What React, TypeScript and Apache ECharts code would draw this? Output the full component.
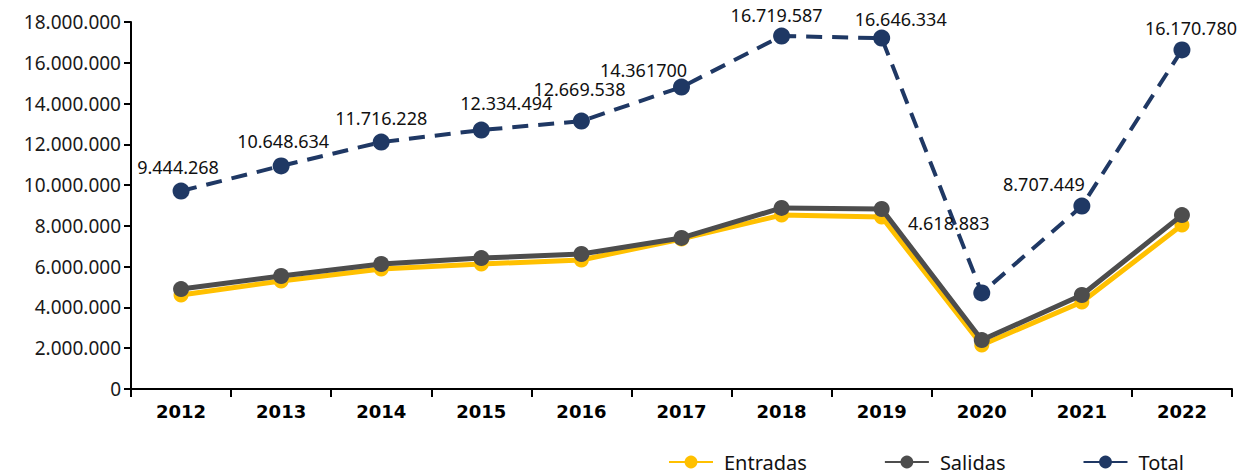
import React, { useEffect, useRef } from "react";
import * as echarts from "echarts";

const years = ["2012", "2013", "2014", "2015", "2016", "2017", "2018", "2019", "2020", "2021", "2022"];
const entradas = [4610000, 5300000, 5890000, 6130000, 6330000, 7360000, 8530000, 8440000, 2160000, 4270000, 8040000];
const salidas = [4900000, 5540000, 6130000, 6420000, 6620000, 7410000, 8880000, 8830000, 2400000, 4610000, 8530000];
const total = [9710000, 10940000, 12110000, 12700000, 13140000, 14810000, 17310000, 17210000, 4710000, 8970000, 16630000];
const totalLabels = ["9.444.268", "10.648.634", "11.716.228", "12.334.494", "12.669.538", "14.361700", "16.719.587", "16.646.334", "4.618.883", "8.707.449", "16.170.780"];
const yTicks = { min: 0, max: 18000000, interval: 2000000 };

// label offsets (style only)
const labelOffsets: [number, number][] = [
  [-3, -2], [2, -2], [0, -2], [25, -5], [-2, -10], [-38, 5], [-5, 1], [19, 3], [-33, -47], [-38, 0], [9, 1],
];

const fmt = (v: number) => String(v).replace(/\B(?=(\d{3})+(?!\d))/g, ".");

const YELLOW = "#FFC000";
const GRAY = "#4D4D4D";
const NAVY = "#1F3864";

export default function App() {
  const ref = useRef<HTMLDivElement>(null);
  useEffect(() => {
    const chart = echarts.init(ref.current!, null, { renderer: "svg" });
    chart.setOption({
      animation: false,
      backgroundColor: "#fff",
      grid: { left: 131, right: 24, top: 22, bottom: 87 },
      legend: {
        left: 668,
        top: 452,
        padding: 0,
        itemWidth: 44,
        itemHeight: 16,
        itemGap: 77,
        textStyle: { fontFamily: "Noto Sans", fontSize: 20, color: "#111", padding: [0, 0, 0, 6] },
        data: [
          { name: "Entradas" },
          { name: "Salidas" },
          { name: "Total", lineStyle: { type: "solid" } },
        ],
      },
      xAxis: {
        type: "category",
        data: years,
        boundaryGap: true,
        axisLine: { lineStyle: { color: "#000", width: 2 } },
        axisTick: { show: true, length: 8, lineStyle: { color: "#000", width: 2 } },
        axisLabel: {
          fontFamily: "DejaVu Sans",
          fontWeight: "bold",
          fontSize: 18,
          color: "#000",
          margin: 13,
        },
        splitLine: { show: false },
      },
      yAxis: {
        type: "value",
        min: yTicks.min,
        max: yTicks.max,
        interval: yTicks.interval,
        axisLine: { show: true, lineStyle: { color: "#000", width: 2 } },
        axisTick: { show: true, length: 7, lineStyle: { color: "#000", width: 2 } },
        axisLabel: {
          fontFamily: "Noto Sans",
          fontSize: 19,
          color: "#1a1a1a",
          margin: 10,
          formatter: (v: number) => fmt(v),
        },
        splitLine: { show: false },
      },
      series: [
        {
          name: "Entradas",
          type: "line",
          data: entradas,
          symbol: "circle",
          symbolSize: 15,
          color: YELLOW,
          itemStyle: { color: YELLOW },
          lineStyle: { color: YELLOW, width: 5 },
          z: 2,
        },
        {
          name: "Salidas",
          type: "line",
          data: salidas,
          symbol: "circle",
          symbolSize: 16,
          color: GRAY,
          itemStyle: { color: GRAY },
          lineStyle: { color: GRAY, width: 5 },
          z: 3,
        },
        {
          name: "Total",
          type: "line",
          data: total.map((v, i) => ({
            value: v,
            label: { offset: labelOffsets[i] },
          })),
          symbol: "circle",
          symbolSize: 17,
          color: NAVY,
          itemStyle: { color: NAVY },
          lineStyle: { color: NAVY, width: 4, type: [16, 10] },
          label: {
            show: true,
            position: "top",
            distance: 5,
            fontFamily: "Noto Sans",
            fontSize: 18,
            color: "#111",
            formatter: (p: any) => totalLabels[p.dataIndex],
          },
          z: 4,
        },
      ],
    });
    return () => chart.dispose();
  }, []);
  return (
    <div
      ref={ref}
      style={{ position: "fixed", left: 0, top: 0, width: 1256, height: 476, background: "#fff" }}
    />
  );
}
